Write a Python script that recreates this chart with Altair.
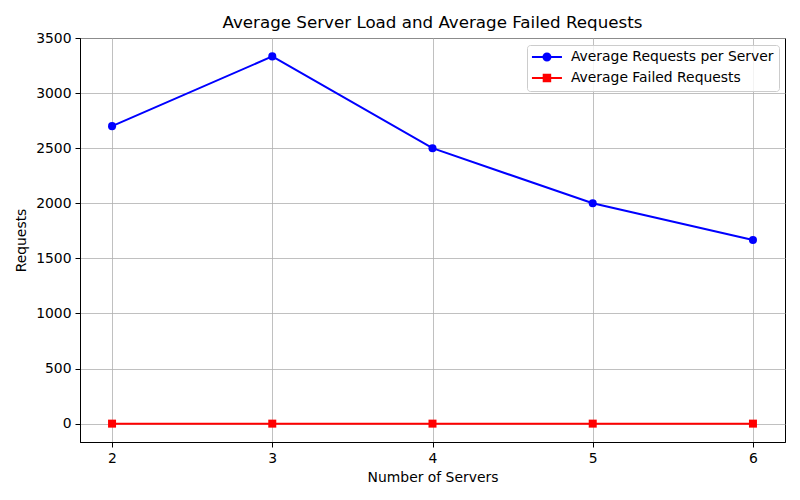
import altair as alt
import pandas as pd

servers = [2, 3, 4, 5, 6]
avg_requests = [2700, 3333, 2500, 2000, 1667]
avg_failed = [0, 0, 0, 0, 0]
series_names = ["Average Requests per Server", "Average Failed Requests"]
colors = ["#0000ff", "#ff0000"]

rows = []
for s, r, f in zip(servers, avg_requests, avg_failed):
    rows.append({"servers": s, "value": r, "series": series_names[0]})
    rows.append({"servers": s, "value": f, "series": series_names[1]})
df = pd.DataFrame(rows)

font = "DejaVu Sans"
x_enc = alt.X("servers:Q", scale=alt.Scale(domain=[1.8, 6.2], nice=False, zero=False),
              axis=alt.Axis(values=servers, format="d", title="Number of Servers",
                            grid=True, titlePadding=6))
y_enc = alt.Y("value:Q", scale=alt.Scale(domain=[-166.7, 3500], nice=False, zero=False),
              axis=alt.Axis(values=list(range(0, 3501, 500)), format="d", title="Requests",
                            grid=True, titlePadding=7))
color_scale = alt.Scale(domain=series_names, range=colors)

base = alt.Chart(df).encode(x=x_enc, y=y_enc)

lines = base.mark_line(strokeWidth=2).encode(
    color=alt.Color("series:N", scale=color_scale, legend=None),
    detail="series:N",
)
circles = base.transform_filter(alt.datum.series == series_names[0]).mark_point(
    shape="circle", filled=True, size=65, opacity=1).encode(
    color=alt.Color("series:N", scale=color_scale, legend=None))
squares = base.transform_filter(alt.datum.series == series_names[1]).mark_point(
    shape="square", filled=True, size=64, opacity=1).encode(
    color=alt.Color("series:N", scale=color_scale, legend=None))

circle_path = "M-3,0L3,0M0.7,0A0.7,0.7,0,1,1,-0.7,0A0.7,0.7,0,1,1,0.7,0Z"
square_path = "M-3,0L3,0M-0.65,-0.65L0.65,-0.65L0.65,0.65L-0.65,0.65Z"

leg = alt.Legend(title=None, orient="none", legendX=447, legendY=7,
                 symbolOpacity=1, symbolStrokeWidth=2,
                 symbolSize=100, labelFontSize=13.9, labelFont=font,
                 labelColor="#000000", labelLimit=400,
                 rowPadding=5, padding=5, symbolOffset=8, labelOffset=17,
                 strokeColor="#cccccc", fillColor="rgba(255,255,255,0.8)",
                 cornerRadius=3)

legend_layer = base.mark_point(filled=True, opacity=0, size=100, strokeWidth=2).encode(
    fill=alt.Fill("series:N", scale=alt.Scale(domain=series_names, range=colors), legend=leg),
    stroke=alt.Stroke("series:N", scale=alt.Scale(domain=series_names, range=colors), legend=leg),
    shape=alt.Shape("series:N", scale=alt.Scale(domain=series_names,
                                                range=[circle_path, square_path]),
                    legend=leg),
)

chart = alt.layer(lines, circles, squares, legend_layer).resolve_legend(
    color="independent", shape="independent", fill="independent", stroke="independent"
).properties(
    width=705, height=404,
    background="white",
    title=alt.Title("Average Server Load and Average Failed Requests", fontSize=16.7,
                    fontWeight="normal", font=font, color="#000000", offset=-1),
    padding={"left": 80, "top": 38, "right": 15, "bottom": 58},
    autosize=alt.AutoSizeParams(type="none"),
).configure_view(stroke="#000000", strokeWidth=1).configure_axis(
    labelFont=font, titleFont=font, labelFontSize=13.9, titleFontSize=13.9,
    labelColor="#000000", titleColor="#000000", titleFontWeight="normal",
    gridColor="#b0b0b0", gridWidth=0.8, domainColor="#000000", tickColor="#000000",
    tickSize=5, labelPadding=4, domain=True,
)

chart.save("out.html", embed_options={"renderer": "svg", "actions": False})
